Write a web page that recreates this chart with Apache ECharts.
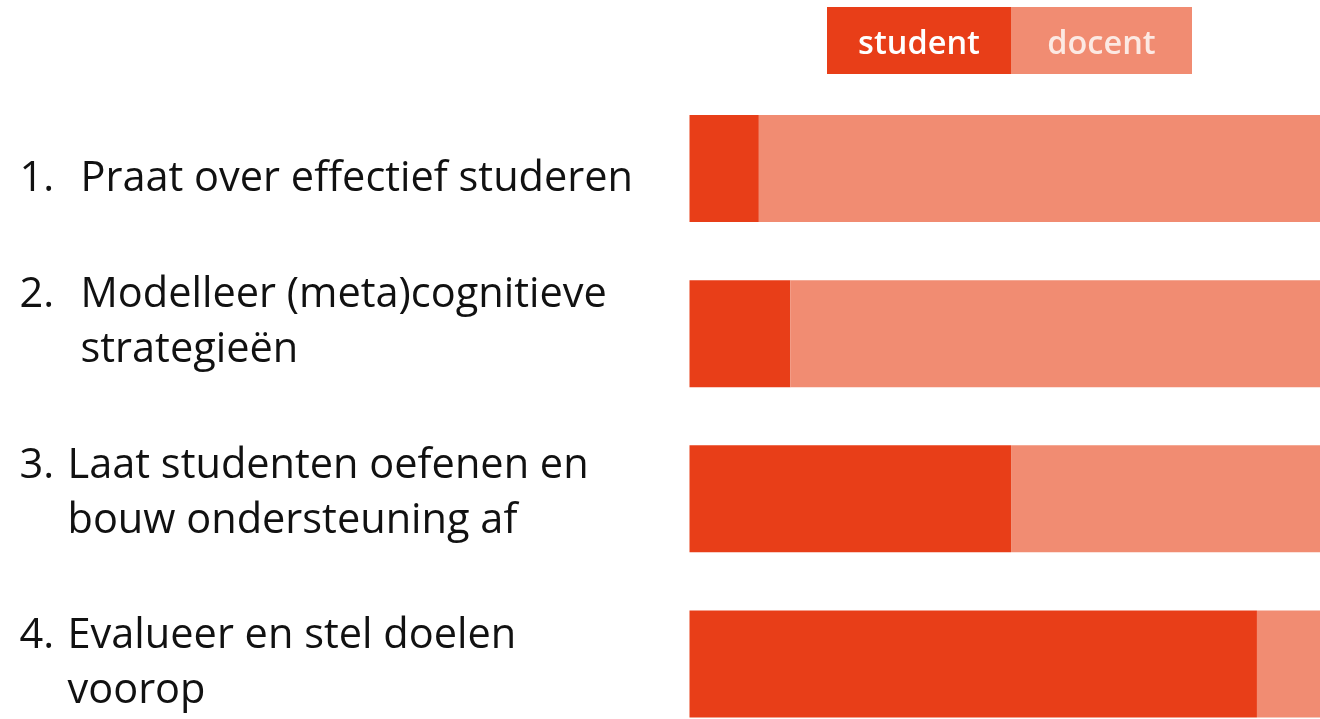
<!DOCTYPE html>
<html>
<head>
<meta charset="utf-8">
<script src="https://cdn.jsdelivr.net/npm/echarts@6/dist/echarts.min.js"></script>
<style>
html,body{margin:0;padding:0;background:#fff;}
#chart{width:1320px;height:719px;}
</style>
</head>
<body>
<div id="chart"></div>
<script>
// ---- data ----
const numbers = ['1.', '2.', '3.', '4.'];
const labelLines = [
  ['Praat over effectief studeren'],
  ['Modelleer (meta)cognitieve', 'strategieën'],
  ['Laat studenten oefenen en', 'bouw ondersteuning af'],
  ['Evalueer en stel doelen', 'voorop']
];
const categories = labelLines.map(l => l.join(' '));
const seriesNames = ['student', 'docent'];
const student = [11, 16, 51, 90];
const docent = [89, 84, 49, 10];

// ---- styling ----
const colStudent = '#E83E18';
const colDocent = '#F18C72';
const FONT = '"Open Sans", sans-serif';
const FS = 41.5;
// per-label layout: number column style, spacer before / after
const labelLayout = [
  {num: 'nA', pre: 'sp21', post: null},
  {num: 'nA', pre: null, post: 'sp22'},
  {num: 'nB', pre: null, post: 'sp11'},
  {num: 'nB', pre: null, post: null}
];

const chart = echarts.init(document.getElementById('chart'), null, {renderer: 'canvas'});
const option = {
  animation: false,
  backgroundColor: '#fff',
  legend: {
    data: seriesNames,
    left: 822, top: 7,
    padding: 0,
    itemWidth: 0, itemHeight: 0, itemGap: -5,
    icon: 'rect',
    selectedMode: false,
    formatter: name => `{${name}|${name}}`,
    textStyle: {
      fontFamily: FONT,
      rich: {
        student: {backgroundColor: colStudent, color: '#ffffff', width: 184, height: 59, lineHeight: 59,
          padding: [8, 0, 0, 0],
          align: 'center', verticalAlign: 'middle', fontSize: 32.5, fontWeight: 600, fontFamily: FONT},
        docent: {backgroundColor: colDocent, color: '#FCE9E3', width: 181, height: 59, lineHeight: 59,
          padding: [8, 0, 0, 0],
          align: 'center', verticalAlign: 'middle', fontSize: 32.5, fontWeight: 600, fontFamily: FONT}
      }
    }
  },
  grid: {left: 689.5, right: 0, top: 168.5, bottom: 55, containLabel: false},
  xAxis: {type: 'value', min: 0, max: 100, show: false},
  yAxis: {
    type: 'category', inverse: true, data: categories, boundaryGap: false,
    axisLine: {show: false}, axisTick: {show: false}, splitLine: {show: false},
    axisLabel: {
      interval: 0, align: 'left', margin: 670,
      fontFamily: FONT, fontSize: FS, color: '#111',
      formatter: (v, i) => {
        const lay = labelLayout[i];
        const lines = labelLines[i];
        const out = [];
        if (lay.pre) out.push(`{${lay.pre}| }`);
        lines.forEach((ln, k) => {
          out.push(`{${lay.num}|${k === 0 ? numbers[i] : ' '}}{t|${ln}}`);
        });
        if (lay.post) out.push(`{${lay.post}| }`);
        return out.join('\n');
      },
      rich: {
        nA: {width: 61, fontSize: FS, lineHeight: 55, color: '#111', fontFamily: FONT},
        nB: {width: 48, fontSize: FS, lineHeight: 55, color: '#111', fontFamily: FONT},
        t: {fontSize: FS, lineHeight: 55, color: '#111', fontFamily: FONT},
        sp21: {fontSize: 1, lineHeight: 21},
        sp22: {fontSize: 1, lineHeight: 22},
        sp11: {fontSize: 1, lineHeight: 11}
      }
    }
  },
  series: [
    {name: 'student', type: 'bar', stack: 'all', data: student, barWidth: 107,
      itemStyle: {color: colStudent}, emphasis: {disabled: true}},
    {name: 'docent', type: 'bar', stack: 'all', data: docent, barWidth: 107,
      itemStyle: {color: colDocent}, emphasis: {disabled: true}}
  ]
};
chart.setOption(option);
</script>
</body>
</html>
